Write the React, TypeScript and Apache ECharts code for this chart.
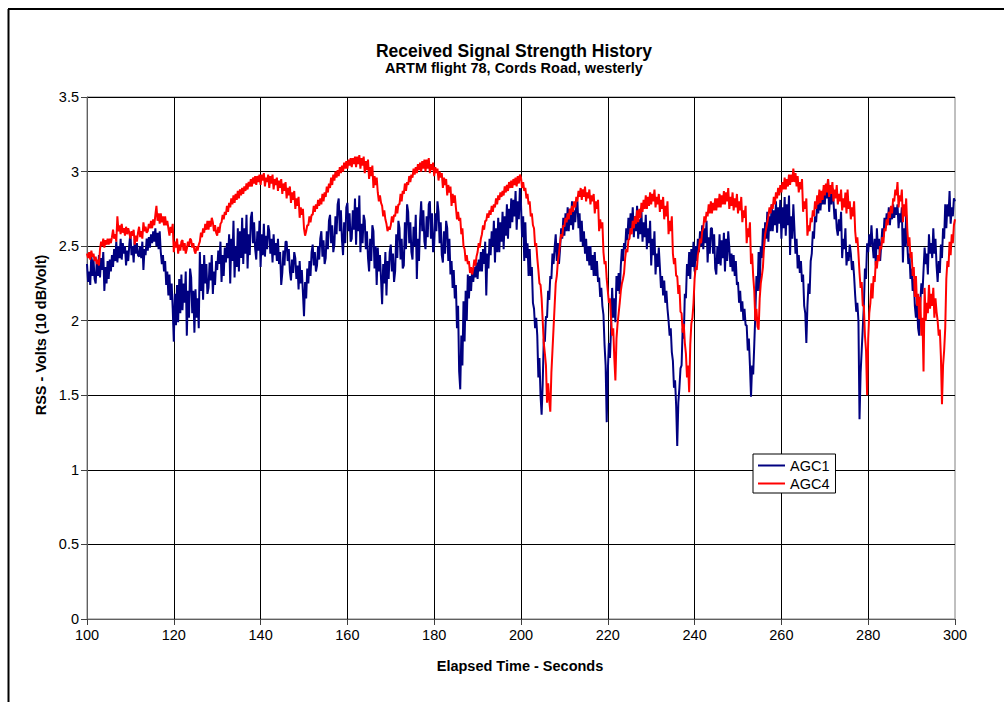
import React, { useEffect, useRef } from "react";
import * as echarts from "echarts";

// Receiver AGC voltage samples, four per second from t = 100 s to t = 300 s.
const TIME_START = 100;
const TIME_STEP = 0.25;

const agc1: number[] = [
  2.38, 2.26, 2.33, 2.24, 2.45, 2.30, 2.41, 2.28, // 100
  2.25, 2.40, 2.30, 2.44, 2.29, 2.42, 2.34, 2.46,
  2.20, 2.36, 2.25, 2.40, 2.28, 2.41, 2.33, 2.44,
  2.36, 2.48, 2.40, 2.53, 2.39, 2.50, 2.42, 2.55,
  2.41, 2.52, 2.45, 2.50, 2.37, 2.47, 2.40, 2.51,
  2.59, 2.44, 2.50, 2.39, 2.55, 2.45, 2.52, 2.44, // 110
  2.43, 2.50, 2.42, 2.53, 2.34, 2.48, 2.44, 2.55,
  2.47, 2.56, 2.49, 2.58, 2.52, 2.60, 2.53, 2.62,
  2.50, 2.59, 2.48, 2.60, 2.46, 2.38, 2.44, 2.33,
  2.40, 2.24, 2.33, 2.17, 2.31, 2.14, 2.25, 2.08,
  1.86, 2.18, 1.97, 2.24, 1.99, 2.28, 2.05, 2.31, // 120
  2.07, 2.25, 2.12, 2.33, 1.90, 2.20, 2.02, 2.35,
  2.29, 2.05, 2.20, 1.92, 2.21, 2.02, 2.15, 1.95,
  2.46, 2.20, 2.38, 2.14, 2.44, 2.25, 2.38, 2.18,
  2.22, 2.39, 2.27, 2.44, 2.18, 2.33, 2.24, 2.40,
  2.34, 2.47, 2.38, 2.53, 2.26, 2.44, 2.30, 2.49, // 130
  2.39, 2.52, 2.42, 2.58, 2.25, 2.55, 2.40, 2.67,
  2.29, 2.50, 2.36, 2.62, 2.33, 2.60, 2.42, 2.69,
  2.38, 2.62, 2.45, 2.71, 2.35, 2.58, 2.44, 2.69,
  2.73, 2.52, 2.66, 2.48, 2.41, 2.60, 2.47, 2.67,
  2.36, 2.58, 2.44, 2.65, 2.43, 2.57, 2.48, 2.64, // 140
  2.60, 2.45, 2.55, 2.39, 2.58, 2.44, 2.52, 2.40,
  2.55, 2.38, 2.46, 2.24, 2.32, 2.47, 2.37, 2.53,
  2.53, 2.40, 2.48, 2.33, 2.27, 2.41, 2.32, 2.46,
  2.42, 2.28, 2.37, 2.21, 2.40, 2.25, 2.34, 2.19,
  2.03, 2.26, 2.15, 2.35, 2.25, 2.40, 2.30, 2.46, // 150
  2.51, 2.37, 2.46, 2.33, 2.37, 2.50, 2.41, 2.55,
  2.60, 2.43, 2.54, 2.38, 2.42, 2.60, 2.48, 2.67,
  2.71, 2.52, 2.64, 2.46, 2.51, 2.70, 2.58, 2.78,
  2.82, 2.60, 2.74, 2.54, 2.44, 2.66, 2.52, 2.76,
  2.79, 2.60, 2.72, 2.53, 2.55, 2.74, 2.61, 2.82, // 160
  2.51, 2.76, 2.60, 2.84, 2.46, 2.65, 2.52, 2.71,
  2.67, 2.48, 2.60, 2.42, 2.33, 2.55, 2.40, 2.64,
  2.60, 2.35, 2.50, 2.24, 2.49, 2.33, 2.44, 2.28,
  2.11, 2.38, 2.25, 2.46, 2.17, 2.40, 2.28, 2.46,
  2.51, 2.33, 2.45, 2.26, 2.33, 2.58, 2.42, 2.67, // 170
  2.62, 2.41, 2.55, 2.35, 2.37, 2.66, 2.48, 2.78,
  2.73, 2.52, 2.66, 2.46, 2.41, 2.63, 2.50, 2.71,
  2.28, 2.55, 2.40, 2.67, 2.80, 2.60, 2.74, 2.53,
  2.48, 2.70, 2.56, 2.78, 2.80, 2.55, 2.72, 2.46,
  2.51, 2.72, 2.60, 2.80, 2.73, 2.52, 2.66, 2.44, // 180
  2.39, 2.60, 2.45, 2.67, 2.62, 2.40, 2.55, 2.31,
  2.40, 2.22, 2.34, 2.15, 2.24, 1.95, 2.10, 1.66,
  1.54, 1.90, 1.70, 2.13, 1.86, 2.20, 2.00, 2.31,
  2.15, 2.30, 2.20, 2.35, 2.26, 2.36, 2.29, 2.39,
  2.28, 2.41, 2.33, 2.46, 2.33, 2.48, 2.38, 2.53, // 190
  2.17, 2.45, 2.35, 2.55, 2.44, 2.60, 2.50, 2.67,
  2.39, 2.62, 2.46, 2.69, 2.46, 2.66, 2.53, 2.73,
  2.48, 2.70, 2.57, 2.78, 2.55, 2.75, 2.62, 2.82,
  2.66, 2.81, 2.70, 2.87, 2.61, 2.80, 2.68, 2.89,
  2.78, 2.56, 2.70, 2.40, 2.66, 2.42, 2.52, 2.30, // 200
  2.48, 2.30, 2.36, 2.12, 2.08, 1.95, 2.02, 1.90,
  1.62, 1.75, 1.50, 1.37, 1.58, 1.88, 1.86, 2.03,
  2.02, 2.20, 2.14, 2.30, 2.28, 2.45, 2.38, 2.49,
  2.58, 2.40, 2.52, 2.38, 2.48, 2.62, 2.55, 2.69,
  2.57, 2.72, 2.60, 2.76, 2.60, 2.75, 2.64, 2.80, // 210
  2.61, 2.74, 2.66, 2.78, 2.80, 2.62, 2.72, 2.53,
  2.67, 2.50, 2.60, 2.45, 2.55, 2.40, 2.50, 2.37,
  2.50, 2.34, 2.44, 2.30, 2.46, 2.30, 2.40, 2.26,
  2.29, 2.16, 2.22, 2.10, 2.04, 1.84, 1.70, 1.32,
  1.66, 1.85, 1.75, 1.95, 2.22, 2.02, 2.15, 1.99, // 220
  2.30, 2.20, 2.32, 2.18, 2.37, 2.48, 2.40, 2.52,
  2.48, 2.62, 2.54, 2.69, 2.58, 2.72, 2.62, 2.76,
  2.56, 2.70, 2.60, 2.77, 2.55, 2.68, 2.58, 2.73,
  2.53, 2.66, 2.56, 2.71, 2.48, 2.62, 2.52, 2.67,
  2.37, 2.55, 2.44, 2.60, 2.31, 2.45, 2.36, 2.49, // 230
  2.36, 2.22, 2.30, 2.17, 2.27, 2.12, 2.20, 2.08,
  2.00, 1.90, 1.95, 1.79, 1.73, 1.55, 1.60, 1.43,
  1.16, 1.45, 1.55, 1.68, 1.70, 1.95, 1.88, 2.18,
  2.15, 2.38, 2.30, 2.46, 2.28, 2.48, 2.36, 2.53,
  2.33, 2.50, 2.40, 2.55, 2.46, 2.60, 2.50, 2.64, // 240
  2.48, 2.62, 2.52, 2.67, 2.39, 2.56, 2.45, 2.62,
  2.62, 2.45, 2.58, 2.35, 2.31, 2.50, 2.38, 2.58,
  2.37, 2.54, 2.42, 2.59, 2.33, 2.55, 2.40, 2.60,
  2.49, 2.36, 2.45, 2.33, 2.44, 2.30, 2.40, 2.24,
  2.26, 2.12, 2.20, 2.06, 2.13, 2.00, 2.08, 1.97, // 250
  1.97, 1.80, 1.88, 1.70, 1.49, 1.70, 1.64, 1.84,
  2.05, 2.30, 2.20, 2.46, 2.20, 2.50, 2.42, 2.62,
  2.48, 2.66, 2.55, 2.73, 2.53, 2.70, 2.60, 2.78,
  2.60, 2.74, 2.64, 2.80, 2.59, 2.76, 2.65, 2.81,
  2.55, 2.76, 2.62, 2.83, 2.57, 2.78, 2.64, 2.84, // 260
  2.44, 2.70, 2.55, 2.78, 2.62, 2.45, 2.55, 2.35,
  2.44, 2.32, 2.40, 2.26, 2.31, 2.10, 2.05, 1.85,
  2.10, 2.25, 2.18, 2.40, 2.45, 2.60, 2.55, 2.70,
  2.66, 2.78, 2.72, 2.85, 2.74, 2.84, 2.78, 2.88,
  2.78, 2.90, 2.82, 2.95, 2.73, 2.85, 2.78, 2.89, // 270
  2.80, 2.68, 2.75, 2.62, 2.57, 2.68, 2.60, 2.73,
  2.42, 2.55, 2.48, 2.62, 2.37, 2.46, 2.40, 2.51,
  2.45, 2.34, 2.40, 2.30, 2.17, 2.06, 2.12, 2.00,
  1.34, 1.65, 1.80, 1.95, 2.10, 2.35, 2.28, 2.52,
  2.46, 2.58, 2.50, 2.64, 2.51, 2.42, 2.55, 2.37, // 280
  2.62, 2.48, 2.55, 2.40, 2.51, 2.62, 2.56, 2.69,
  2.62, 2.72, 2.66, 2.76, 2.64, 2.74, 2.68, 2.78,
  2.69, 2.76, 2.71, 2.78, 2.62, 2.72, 2.66, 2.76,
  2.39, 2.62, 2.50, 2.71, 2.52, 2.38, 2.45, 2.28,
  2.35, 2.20, 2.28, 2.10, 2.02, 2.12, 1.95, 1.90, // 290
  2.12, 2.25, 2.18, 2.34, 2.49, 2.38, 2.45, 2.31,
  2.58, 2.45, 2.52, 2.42, 2.62, 2.45, 2.55, 2.37,
  2.26, 2.40, 2.32, 2.51, 2.42, 2.62, 2.55, 2.78,
  2.62, 2.78, 2.70, 2.87, 2.65, 2.76, 2.70, 2.82,
  2.80, // 300
];

const agc4: number[] = [
  2.45, 2.42, 2.46, 2.41, 2.47, 2.43, 2.45, 2.40, // 100
  2.43, 2.38, 2.41, 2.37, 2.48, 2.53, 2.50, 2.55,
  2.49, 2.54, 2.51, 2.55, 2.51, 2.55, 2.52, 2.56,
  2.61, 2.55, 2.58, 2.53, 2.70, 2.60, 2.64, 2.58,
  2.65, 2.59, 2.62, 2.57, 2.63, 2.58, 2.62, 2.59,
  2.55, 2.60, 2.57, 2.61, 2.51, 2.57, 2.53, 2.59, // 110
  2.63, 2.56, 2.60, 2.55, 2.66, 2.60, 2.63, 2.59,
  2.60, 2.65, 2.62, 2.67, 2.62, 2.68, 2.64, 2.71,
  2.77, 2.67, 2.72, 2.65, 2.72, 2.66, 2.70, 2.64,
  2.70, 2.64, 2.67, 2.62, 2.57, 2.63, 2.59, 2.65,
  2.46, 2.53, 2.49, 2.55, 2.45, 2.51, 2.47, 2.53, // 120
  2.54, 2.47, 2.52, 2.45, 2.48, 2.53, 2.50, 2.55,
  2.54, 2.49, 2.52, 2.47, 2.45, 2.50, 2.47, 2.51,
  2.53, 2.59, 2.56, 2.62, 2.59, 2.65, 2.61, 2.67,
  2.61, 2.67, 2.63, 2.69, 2.66, 2.60, 2.64, 2.59,
  2.57, 2.63, 2.59, 2.65, 2.66, 2.71, 2.68, 2.73, // 130
  2.71, 2.77, 2.73, 2.79, 2.76, 2.82, 2.78, 2.84,
  2.79, 2.85, 2.81, 2.87, 2.82, 2.88, 2.84, 2.89,
  2.85, 2.90, 2.87, 2.92, 2.88, 2.93, 2.90, 2.95,
  2.90, 2.96, 2.92, 2.97, 2.91, 2.97, 2.93, 2.98,
  2.91, 2.98, 2.94, 2.99, 2.90, 2.96, 2.93, 2.98, // 140
  2.89, 2.97, 2.92, 2.98, 2.88, 2.95, 2.91, 2.96,
  2.87, 2.94, 2.89, 2.95, 2.85, 2.92, 2.87, 2.93,
  2.82, 2.89, 2.84, 2.90, 2.79, 2.86, 2.81, 2.87,
  2.75, 2.82, 2.77, 2.83, 2.69, 2.76, 2.71, 2.75,
  2.62, 2.57, 2.60, 2.64, 2.64, 2.70, 2.66, 2.71, // 150
  2.71, 2.77, 2.73, 2.78, 2.75, 2.81, 2.77, 2.82,
  2.78, 2.85, 2.80, 2.86, 2.83, 2.90, 2.86, 2.92,
  2.89, 2.96, 2.91, 2.98, 2.94, 3.00, 2.96, 3.01,
  2.97, 3.03, 2.99, 3.04, 3.00, 3.06, 3.02, 3.07,
  3.02, 3.08, 3.04, 3.09, 3.03, 3.09, 3.05, 3.10, // 160
  3.03, 3.10, 3.05, 3.11, 3.02, 3.09, 3.04, 3.10,
  2.99, 3.07, 3.01, 3.08, 2.95, 3.03, 2.97, 3.04,
  2.89, 2.97, 2.91, 2.96, 2.86, 2.80, 2.84, 2.79,
  2.77, 2.70, 2.74, 2.68, 2.65, 2.60, 2.63, 2.61,
  2.64, 2.70, 2.66, 2.71, 2.70, 2.77, 2.72, 2.78, // 170
  2.78, 2.85, 2.80, 2.87, 2.85, 2.92, 2.87, 2.93,
  2.91, 2.97, 2.93, 2.98, 2.96, 3.02, 2.98, 3.03,
  2.99, 3.05, 3.01, 3.06, 3.00, 3.07, 3.02, 3.08,
  3.00, 3.08, 3.02, 3.09, 2.99, 3.05, 3.01, 3.06,
  2.97, 3.03, 2.99, 3.02, 2.94, 3.00, 2.96, 2.99, // 180
  2.89, 2.96, 2.91, 2.95, 2.84, 2.91, 2.86, 2.90,
  2.77, 2.85, 2.79, 2.84, 2.76, 2.68, 2.73, 2.67,
  2.69, 2.58, 2.62, 2.50, 2.48, 2.40, 2.44, 2.38,
  2.40, 2.32, 2.36, 2.31, 2.35, 2.41, 2.37, 2.43,
  2.46, 2.52, 2.49, 2.55, 2.58, 2.64, 2.61, 2.67, // 190
  2.67, 2.72, 2.69, 2.74, 2.71, 2.77, 2.73, 2.78,
  2.76, 2.82, 2.78, 2.84, 2.81, 2.86, 2.83, 2.87,
  2.84, 2.90, 2.86, 2.91, 2.87, 2.93, 2.89, 2.94,
  2.89, 2.95, 2.91, 2.96, 2.90, 2.97, 2.92, 2.98,
  2.96, 2.89, 2.93, 2.87, 2.89, 2.82, 2.85, 2.78, // 200
  2.80, 2.70, 2.72, 2.64, 2.62, 2.50, 2.52, 2.42,
  2.34, 2.25, 2.24, 2.15, 2.00, 1.85, 1.78, 1.70,
  1.45, 1.58, 1.47, 1.39, 1.65, 1.80, 1.95, 2.10,
  2.25, 2.30, 2.40, 2.45, 2.52, 2.58, 2.56, 2.64,
  2.63, 2.69, 2.66, 2.72, 2.68, 2.75, 2.71, 2.77, // 210
  2.73, 2.80, 2.76, 2.83, 2.80, 2.87, 2.83, 2.89,
  2.81, 2.88, 2.83, 2.90, 2.80, 2.86, 2.82, 2.88,
  2.78, 2.84, 2.80, 2.85, 2.72, 2.80, 2.75, 2.81,
  2.60, 2.68, 2.62, 2.66, 2.46, 2.38, 2.40, 2.28,
  2.20, 2.12, 2.15, 2.01, 1.90, 1.95, 1.75, 1.60, // 220
  1.88, 1.98, 2.05, 2.12, 2.20, 2.25, 2.28, 2.32,
  2.42, 2.48, 2.46, 2.54, 2.55, 2.62, 2.58, 2.67,
  2.62, 2.70, 2.65, 2.74, 2.66, 2.75, 2.69, 2.79,
  2.73, 2.81, 2.75, 2.84, 2.75, 2.83, 2.77, 2.86,
  2.78, 2.85, 2.80, 2.88, 2.76, 2.83, 2.78, 2.85, // 230
  2.73, 2.81, 2.75, 2.83, 2.68, 2.77, 2.70, 2.80,
  2.58, 2.67, 2.60, 2.70, 2.45, 2.38, 2.42, 2.30,
  2.30, 2.18, 2.24, 2.06, 2.05, 1.92, 1.98, 1.85,
  1.78, 1.62, 1.70, 1.52, 1.84, 1.98, 2.02, 2.12,
  2.28, 2.36, 2.34, 2.44, 2.48, 2.55, 2.52, 2.60, // 240
  2.62, 2.70, 2.66, 2.73, 2.70, 2.78, 2.72, 2.80,
  2.72, 2.79, 2.74, 2.82, 2.74, 2.82, 2.76, 2.85,
  2.76, 2.84, 2.78, 2.87, 2.78, 2.86, 2.80, 2.89,
  2.75, 2.83, 2.77, 2.86, 2.74, 2.82, 2.76, 2.85,
  2.72, 2.80, 2.74, 2.83, 2.66, 2.74, 2.69, 2.77, // 250
  2.52, 2.62, 2.56, 2.66, 2.38, 2.45, 2.30, 2.20,
  2.00, 2.08, 1.96, 1.94, 2.15, 2.25, 2.30, 2.36,
  2.50, 2.58, 2.62, 2.66, 2.70, 2.76, 2.72, 2.78,
  2.75, 2.83, 2.78, 2.86, 2.82, 2.89, 2.84, 2.91,
  2.86, 2.93, 2.88, 2.96, 2.88, 2.95, 2.90, 2.98, // 260
  2.91, 2.98, 2.93, 3.02, 2.93, 2.99, 2.90, 2.97,
  2.86, 2.93, 2.88, 2.95, 2.73, 2.80, 2.75, 2.82,
  2.57, 2.64, 2.60, 2.69, 2.66, 2.74, 2.70, 2.80,
  2.75, 2.84, 2.78, 2.88, 2.79, 2.87, 2.81, 2.91,
  2.84, 2.92, 2.86, 2.95, 2.83, 2.91, 2.85, 2.93, // 270
  2.80, 2.88, 2.82, 2.91, 2.78, 2.85, 2.80, 2.88,
  2.74, 2.82, 2.76, 2.86, 2.72, 2.88, 2.75, 2.80,
  2.68, 2.76, 2.70, 2.80, 2.60, 2.52, 2.56, 2.45,
  2.32, 2.22, 2.26, 2.10, 2.10, 1.90, 1.80, 1.50,
  1.88, 2.05, 2.12, 2.25, 2.15, 2.30, 2.26, 2.40, // 280
  2.35, 2.44, 2.40, 2.50, 2.48, 2.56, 2.52, 2.62,
  2.60, 2.68, 2.64, 2.73, 2.69, 2.77, 2.72, 2.82,
  2.80, 2.88, 2.84, 2.93, 2.76, 2.84, 2.80, 2.88,
  2.66, 2.78, 2.70, 2.82, 2.62, 2.50, 2.56, 2.42,
  2.46, 2.30, 2.36, 2.16, 2.30, 2.10, 2.18, 2.01, // 290
  2.16, 1.90, 2.02, 1.66, 2.22, 2.00, 2.12, 2.05,
  2.24, 2.08, 2.18, 2.10, 2.22, 2.02, 2.15, 2.06,
  2.00, 1.90, 1.94, 1.76, 1.44, 1.70, 1.80, 1.95,
  2.28, 2.40, 2.36, 2.53, 2.44, 2.58, 2.52, 2.64,
  2.68, // 300
];

const seriesNames = ["AGC1", "AGC4"];
const seriesColors = ["#000080", "#ff0000"];

const titleText = "Received Signal Strength History";
const subtitleText = "ARTM flight 78, Cords Road, westerly";
const xAxisTitle = "Elapsed Time - Seconds";
const yAxisTitle = "RSS - Volts (10 dB/Volt)";

const FONT = '"Liberation Sans", Arial, Helvetica, sans-serif';

function toPairs(values: number[]): [number, number][] {
  return values.map((v, i) => [TIME_START + i * TIME_STEP, v]);
}

export default function App() {
  const ref = useRef<HTMLDivElement | null>(null);

  useEffect(() => {
    if (!ref.current) return;
    const chart = echarts.init(ref.current, undefined, { renderer: "svg" });

    const axisLabel = { fontSize: 14.5, color: "#000", fontFamily: FONT };

    const boldText = (text: string, size: number) => ({
      text,
      fontFamily: FONT,
      fontSize: size,
      fontWeight: "bold",
      fill: "#000",
      align: "center",
      verticalAlign: "middle",
    });

    chart.setOption({
      animation: false,
      backgroundColor: "#fff",
      grid: {
        left: 87,
        top: 97,
        width: 868,
        height: 522,
        show: true,
        borderColor: "#808080",
        borderWidth: 1,
        outerBoundsMode: "none",
      },
      legend: {
        left: 753,
        top: 454,
        orient: "vertical",
        backgroundColor: "#fff",
        borderColor: "#000",
        borderWidth: 1,
        borderRadius: 0,
        padding: [4, 6, 2, 5],
        itemGap: 3,
        itemWidth: 27,
        itemHeight: 2,
        icon: "rect",
        textStyle: { fontSize: 14.5, color: "#000", fontFamily: FONT },
        data: seriesNames,
      },
      xAxis: {
        type: "value",
        min: 100,
        max: 300,
        interval: 20,
        axisLine: { show: true, lineStyle: { color: "#606060", width: 1 } },
        axisTick: { show: true, inside: false, length: 6, lineStyle: { color: "#404040" } },
        axisLabel: { ...axisLabel, margin: 8 },
        splitLine: {
          show: true,
          showMinLine: false,
          showMaxLine: false,
          lineStyle: { color: "#000", width: 1 },
        },
      },
      yAxis: {
        type: "value",
        min: 0,
        max: 3.5,
        interval: 0.5,
        axisLine: { show: true, lineStyle: { color: "#606060", width: 1 } },
        axisTick: { show: true, inside: false, length: 6, lineStyle: { color: "#404040" } },
        axisLabel: { ...axisLabel, margin: 8 },
        splitLine: {
          show: true,
          showMinLine: false,
          lineStyle: { color: "#000", width: 1 },
        },
      },
      series: [agc1, agc4].map((values, i) => ({
        name: seriesNames[i],
        type: "line",
        data: toPairs(values),
        showSymbol: false,
        symbol: "none",
        color: seriesColors[i],
        lineStyle: { color: seriesColors[i], width: 2 },
        emphasis: { disabled: true },
        z: 3 + i,
      })),
      graphic: [
        {
          type: "line",
          shape: { x1: 8.5, y1: 9, x2: 8.5, y2: 702 },
          style: { stroke: "#000", lineWidth: 2 },
          silent: true,
        },
        {
          type: "line",
          shape: { x1: 8, y1: 9, x2: 1004, y2: 9 },
          style: { stroke: "#000", lineWidth: 2 },
          silent: true,
        },
        { type: "text", x: 514, y: 51, style: boldText(titleText, 17.5) },
        { type: "text", x: 514, y: 67.5, style: boldText(subtitleText, 14.5) },
        { type: "text", x: 520, y: 666, style: boldText(xAxisTitle, 14.5) },
        {
          type: "text",
          x: 41,
          y: 335,
          rotation: Math.PI / 2,
          style: boldText(yAxisTitle, 14.5),
        },
      ],
    });

    return () => {
      chart.dispose();
    };
  }, []);

  return (
    <div
      ref={ref}
      style={{ position: "fixed", left: 0, top: 0, width: 1004, height: 702, background: "#fff" }}
    />
  );
}
